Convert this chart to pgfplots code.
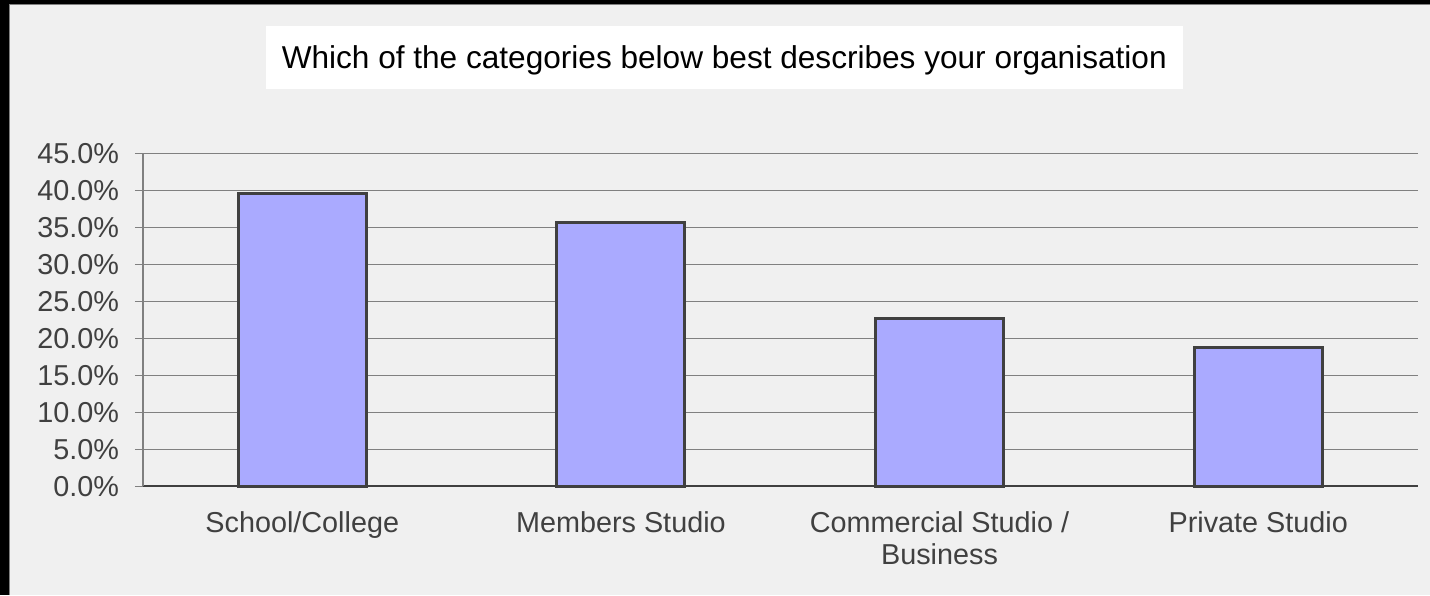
\documentclass[border=0pt]{standalone}
\usepackage{pgfplots}
\pgfplotsset{compat=1.18}
\usepackage{fontspec}
\setmainfont{Liberation Sans}
\definecolor{bg}{HTML}{F0F0F0}
\definecolor{barfill}{HTML}{AAAAFF}
\definecolor{edge}{HTML}{404040}
\definecolor{gridc}{HTML}{808080}
\definecolor{labc}{HTML}{404040}
\begin{document}
\begin{tikzpicture}
% frame and background
\fill[black] (0,0) rectangle (715pt,297.5pt);
\fill[bg] (4.5pt,0) rectangle (715pt,295pt);
\draw[gridc,line width=0.5pt] (4.75pt,0) -- (4.75pt,295pt) -- (715pt,295pt);
% title box
\fill[white] (133pt,253pt) rectangle (591.5pt,284.5pt);
\node[inner sep=0pt] at (362.25pt,267.5pt)
  {\fontsize{15.8}{18}\selectfont Which of the categories below best describes your organisation};
\begin{axis}[
  at={(71.5pt,54.35pt)}, anchor=south west,
  scale only axis, width=637.5pt, height=166.5pt,
  xmin=-0.5, xmax=3.5, ymin=0, ymax=45,
  axis x line=bottom, axis y line=left,
  axis line style={-},
  x axis line style={edge, line width=0.8pt},
  y axis line style={gridc, line width=0.6pt},
  xtick={0,1,2,3},
  xticklabels={School/College, Members Studio, {Commercial Studio /\\Business}, Private Studio},
  major x tick style={draw=none},
  extra x ticks={-0.5,0.5,1.5,2.5,3.5},
  extra x tick labels={},
  extra x tick style={tick align=outside, major tick length=4pt, tick style={gridc, line width=0.6pt}, grid=none},
  ytick={0,5,...,45},
  yticklabel={\pgfmathprintnumber[fixed,fixed zerofill,precision=1]{\tick}\%},
  /pgf/number format/assume math mode=true,
  tick align=outside, major tick length=4pt,
  y tick style={gridc, line width=0.6pt},
  ymajorgrids, grid style={gridc, line width=0.6pt},
  ticklabel style={font=\fontsize{14.4}{16.3}\selectfont, text=labc},
  xticklabel style={align=center, yshift=-5pt},
  yticklabel style={xshift=-4.5pt},
  bar width=64pt,
  clip=false,
]
\addplot[ybar, fill=barfill, draw=edge, line width=1.5pt] coordinates {
  (0,39.6) (1,35.6) (2,22.6) (3,18.7)
};
\end{axis}
\end{tikzpicture}
\end{document}
